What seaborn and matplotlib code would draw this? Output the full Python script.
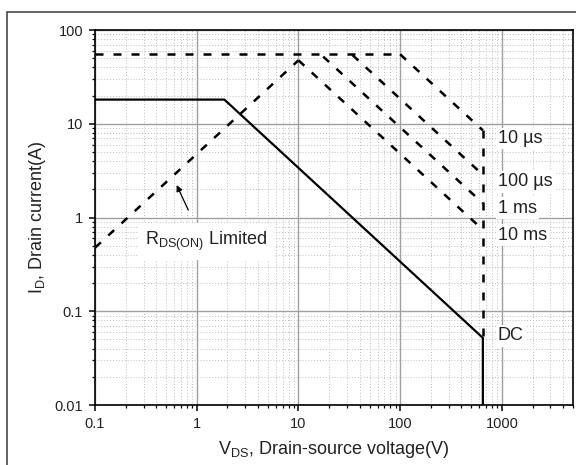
import matplotlib
matplotlib.use("Agg")
import matplotlib.pyplot as plt
import seaborn as sns
import pandas as pd
from matplotlib.patches import Rectangle
from matplotlib.ticker import FixedLocator, FixedFormatter, LogLocator, NullFormatter

# ---------------- data ----------------
dc_v = [0.1, 1.87, 650, 650]
dc_i = [18.1, 18.1, 0.052, 0.01]

rds_v = [0.1, 10]
rds_i = [0.476, 47.5]

top_v = [0.1, 100]
top_i = [55, 55]

us10_v = [100, 650]
us10_i = [55, 8.5]
us100_v = [34, 650]
us100_i = [54, 2.85]
ms1_v = [17.5, 650]
ms1_i = [52, 1.42]
ms10_v = [10, 650]
ms10_i = [47.5, 0.74]

edge_v = [650, 650]
edge_i = [8.5, 0.052]

label_text = ["10 µs", "100 µs", "1 ms", "10 ms", "DC"]
label_i = [7.0, 2.4, 1.26, 0.65, 0.0545]
label_v = 910

xtick_vals = [0.1, 1, 10, 100, 1000]
xtick_labels = ["0.1", "1", "10", "100", "1000"]
ytick_vals = [0.01, 0.1, 1, 10, 100]
ytick_labels = ["0.01", "0.1", "1", "10", "100"]

# ---------------- style ----------------
sns.set_style("ticks")
plt.rcParams['font.family'] = ['Liberation Sans', 'DejaVu Sans']
plt.rcParams['mathtext.fontset'] = 'custom'
plt.rcParams['mathtext.rm'] = 'Liberation Sans'
plt.rcParams['mathtext.it'] = 'Liberation Sans:italic'
plt.rcParams['mathtext.bf'] = 'Liberation Sans:bold'

W, H = 576, 465
fig = plt.figure(figsize=(W / 100, H / 100), dpi=100)
ax = fig.add_axes([95 / W, 1 - 405 / H, 478 / W, 375 / H])

# outer frame
fig.patches.append(Rectangle((7 / W, -0.1), 1.2, 1 - 12 / H + 0.1,
                             transform=fig.transFigure, fill=False,
                             edgecolor='#3a3a3a', lw=1.1, zorder=0))

dash = (0, (3.2, 4.0))


def draw(v, i, ls, lw):
    df = pd.DataFrame({"V": v, "I": i})
    sns.lineplot(data=df, x="V", y="I", ax=ax, estimator=None, sort=False,
                 color="black", lw=lw, linestyle=ls, zorder=3)


draw(dc_v, dc_i, '-', 1.6)
for v, i in [(rds_v, rds_i), (top_v, top_i), (us10_v, us10_i), (us100_v, us100_i),
             (ms1_v, ms1_i), (ms10_v, ms10_i), (edge_v, edge_i)]:
    draw(v, i, dash, 1.8)

ax.set_xscale('log')
ax.set_yscale('log')
ax.set_xlim(0.1, 5000)
ax.set_ylim(0.01, 100)

ax.xaxis.set_major_locator(FixedLocator(xtick_vals))
ax.xaxis.set_major_formatter(FixedFormatter(xtick_labels))
ax.yaxis.set_major_locator(FixedLocator(ytick_vals))
ax.yaxis.set_major_formatter(FixedFormatter(ytick_labels))
ax.xaxis.set_minor_locator(LogLocator(base=10, subs=range(2, 10), numticks=50))
ax.yaxis.set_minor_locator(LogLocator(base=10, subs=range(2, 10), numticks=50))
ax.xaxis.set_minor_formatter(NullFormatter())
ax.yaxis.set_minor_formatter(NullFormatter())

ax.grid(which='major', color='#a0a0a0', lw=1.0, ls='-', zorder=0)
ax.grid(which='minor', color='#bdbdbd', lw=0.7, ls=(0, (1, 2)), zorder=0)
ax.set_axisbelow(True)

for s in ax.spines.values():
    s.set_linewidth(1.2)
    s.set_color('black')
ax.tick_params(which='major', direction='out', length=4.5, width=1.1, labelsize=10.5,
               colors='black', labelcolor='#222222')
ax.tick_params(which='minor', direction='out', length=2.5, width=0.9, colors='black')
ax.tick_params(axis='x', which='major', pad=4)
ax.tick_params(axis='y', which='major', pad=4)

ax.set_xlabel(r"V$_{\mathrm{DS}}$, Drain-source voltage(V)", fontsize=13, labelpad=6, color='#222222')
ax.set_ylabel(r"I$_{\mathrm{D}}$, Drain current(A)", fontsize=13, labelpad=5, color='#222222')

for t, y in zip(label_text, label_i):
    ax.text(label_v, y, t, ha='left', va='center', fontsize=13, color='#222222', zorder=4,
            bbox=dict(facecolor='white', edgecolor='none', pad=1.5))

ax.text(1.23, 0.55, r"R$_{\mathrm{DS(ON)}}$ Limited", ha='center', va='center', fontsize=13,
        color='#222222', zorder=4,
        bbox=dict(facecolor='white', edgecolor='none', pad=5))

ax.annotate('', xy=(0.635, 2.22), xytext=(0.826, 1.2),
            arrowprops=dict(arrowstyle='-|>', color='black', lw=0.9, mutation_scale=9,
                            shrinkA=0, shrinkB=0), zorder=5)

fig.savefig("out.png", dpi=100)
